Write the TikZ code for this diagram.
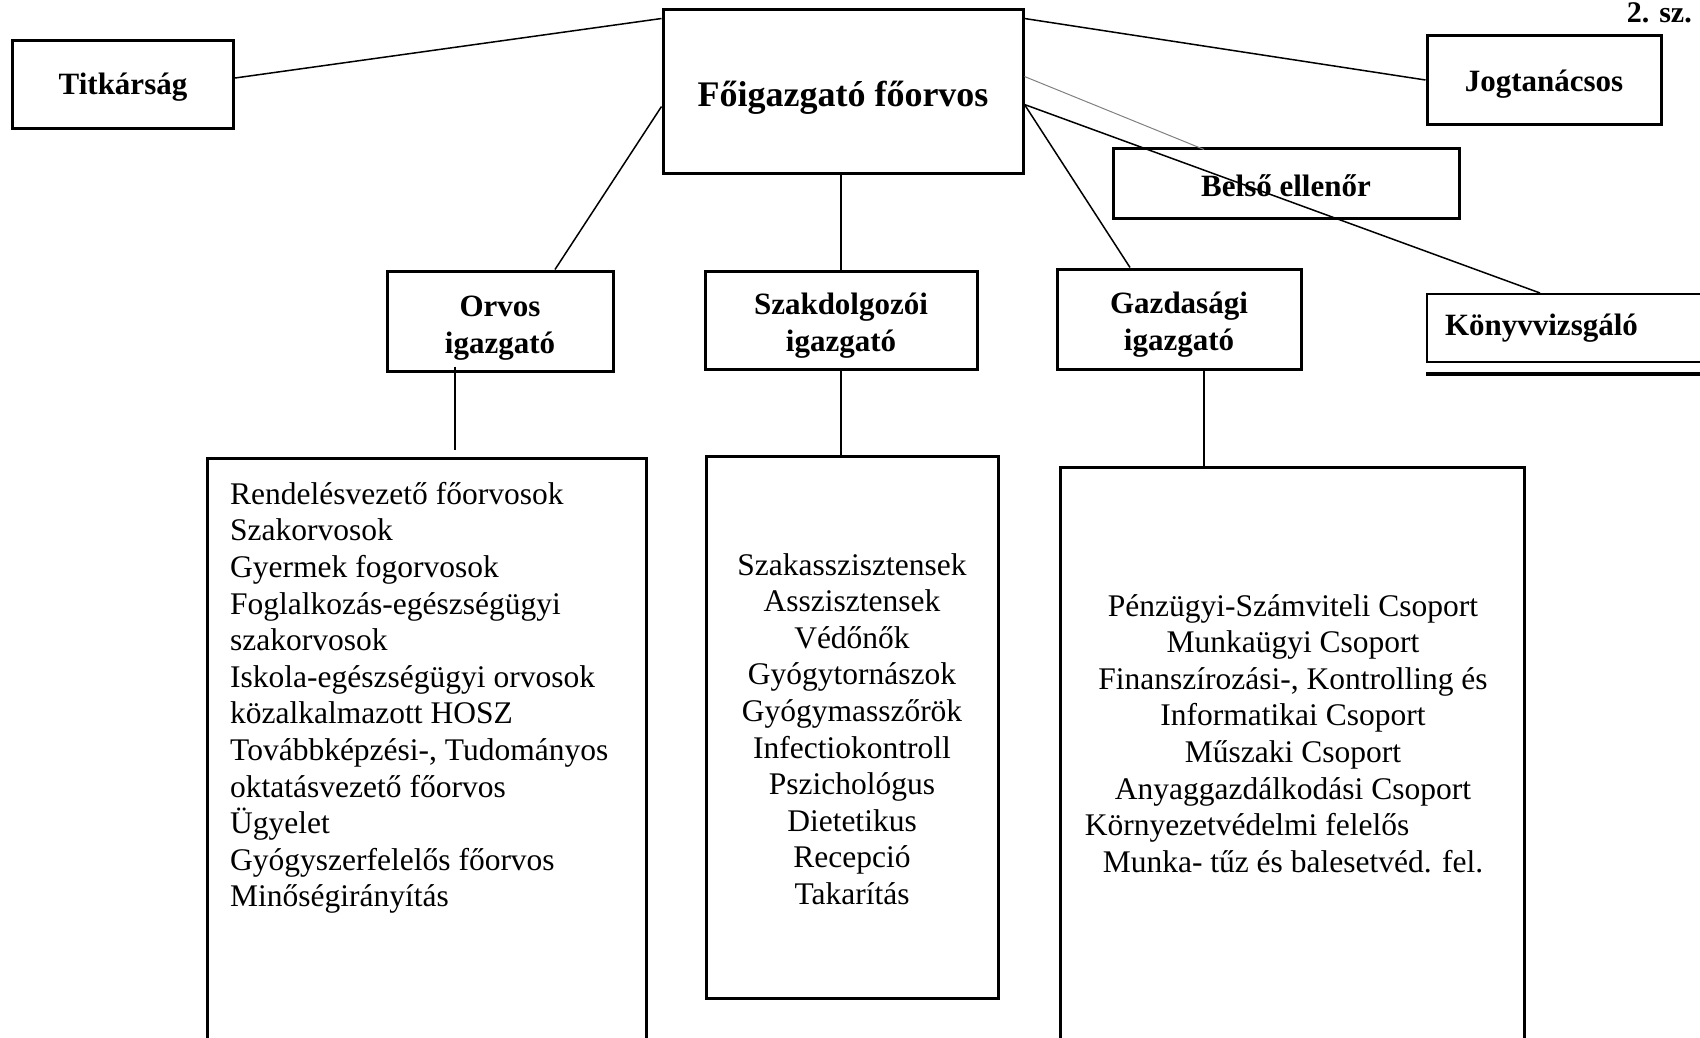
\documentclass[tikz,border=0pt]{standalone}
\usepackage{fontspec}
\setmainfont{Liberation Serif}
\usetikzlibrary{positioning}

\begin{document}
\begin{tikzpicture}[x=1pt,y=-1pt,
    hbox/.style={draw,line width=3pt,inner sep=0pt,align=center,
      font=\fontsize{31}{37}\selectfont\bfseries},
    hstrut/.style={execute at begin node=\rule{0pt}{#1}},
    lbox/.style={draw,line width=3pt,inner sep=0pt,anchor=north west},
    ltext/.style={inner sep=0pt,font=\fontsize{31.5}{36.6}\selectfont},
    conn/.style={line width=1.5pt}]
 \useasboundingbox (0,0) rectangle (1700,1037);
 % top level
 \node[hbox,minimum width=360pt,minimum height=164pt,
   font=\fontsize{36}{40}\selectfont\bfseries,hstrut=39pt] (FO) at (843,91) {Főigazgató főorvos};
 \node[hbox,hstrut=28pt,minimum width=221pt,minimum height=88pt] (TK) at (123,84) {Titkárság};
 \node[hbox,hstrut=29pt,minimum width=234pt,minimum height=89pt] (JT) at (1544,80) {Jogtanácsos};
 \node[hbox,hstrut=27pt,minimum width=346pt,minimum height=70pt] (BE) at (1286,183) {Belső ellenőr};
 \node[hbox,line width=2pt,anchor=north west,minimum height=68pt,text width=260pt,
   align=left,inner xsep=18pt] (KV) at (1426,293) {Könyvvizsgáló};
 \node[inner sep=0pt,font=\fontsize{30}{34}\selectfont\bfseries,anchor=north east] (SZ2) at (1692,2) {2. sz.};
 % directors
 \node[hbox,minimum width=226pt,minimum height=100pt] (OI) at (500,321) {\rule{0pt}{34pt}Orvos\\igazgató};
 \node[hbox,minimum width=272pt,minimum height=98pt] (SI) at (841,320) {\rule{0pt}{33pt}Szakdolgozói\\igazgató};
 \node[hbox,minimum width=244pt,minimum height=100pt] (GI) at (1179,319) {\rule{0pt}{33pt}Gazdasági\\igazgató};
 % lists
 \node[lbox,minimum width=439pt,minimum height=640pt] (OL) at (206,457) {};
 \node[lbox,minimum width=292pt,minimum height=542pt] (SL) at (705,455) {};
 \node[lbox,minimum width=464pt,minimum height=640pt] (GL) at (1059,466) {};
 \node[ltext,align=left,anchor=north west] (OLt) at (230,482) {Rendelésvezető főorvosok\\Szakorvosok\\Gyermek fogorvosok\\Foglalkozás-egészségügyi\\szakorvosok\\Iskola-egészségügyi orvosok\\közalkalmazott HOSZ\\Továbbképzési-, Tudományos\\oktatásvezető főorvos\\Ügyelet\\Gyógyszerfelelős főorvos\\Minőségirányítás};
 \node[ltext,align=center,anchor=north] (SLt) at (852,553) {Szakasszisztensek\\Asszisztensek\\Védőnők\\Gyógytornászok\\Gyógymasszőrök\\Infectiokontroll\\Pszichológus\\Dietetikus\\Recepció\\Takarítás};
 \node[ltext,align=center,anchor=north] (GLt) at (1293,594) {Pénzügyi-Számviteli Csoport\\Munkaügyi Csoport\\Finanszírozási-, Kontrolling és\\Informatikai Csoport\\Műszaki Csoport\\Anyaggazdálkodási Csoport\\Környezetvédelmi felelős\rule{92pt}{0pt}\\Munka- tűz és balesetvéd. fel.};
 % connectors
 \draw[line width=4pt] ([yshift=-11pt]KV.south west) -- ++(290,0);
 \draw[conn] ([yshift=6pt]TK.east) -- ([yshift=-11pt]FO.north west);
 \draw[conn] ([yshift=-99pt]FO.north west) -- ([xshift=55pt]OI.north);
 \draw[conn] (SI.north |- FO.south) -- (SI.north);
 \draw[conn] ([yshift=-11pt]FO.north east) -- (JT.west);
 \draw[gray,line width=1pt] ([yshift=-69pt]FO.north east) -- ([xshift=-82pt,yshift=-3pt]BE.north);
 \draw[conn] ([yshift=-97pt]FO.north east) -- ([xshift=114pt]KV.north west);
 \draw[conn] ([yshift=-97pt]FO.north east) -- ([xshift=-49pt]GI.north);
 \draw[conn,shorten <=-6pt,shorten >=7pt] ([xshift=-45pt]OI.south) -- ([xshift=-45pt]OI.south |- OL.north);
 \draw[conn] (SI.south) -- (SI.south |- SL.north);
 \draw[conn] ([xshift=25pt]GI.south) -- ([xshift=25pt]GI.south |- GL.north);
\end{tikzpicture}
\end{document}
